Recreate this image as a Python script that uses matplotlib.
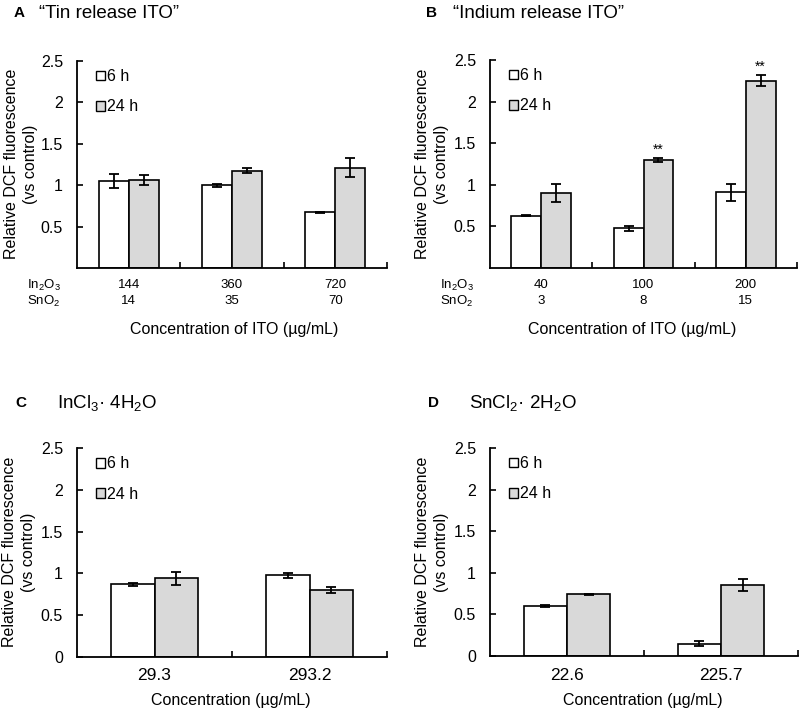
import matplotlib
matplotlib.use("Agg")
import matplotlib.pyplot as plt
import matplotlib.transforms as mtrans
import numpy as np

plt.rcParams['font.family'] = ['Liberation Sans', 'DejaVu Sans']
plt.rcParams['mathtext.default'] = 'regular'

# ---------------- data ----------------
series_labels = ['6 h', '24 h']

A_in2o3 = ['144', '360', '720']
A_sno2 = ['14', '35', '70']
A_6h = [1.05, 1.00, 0.675]
A_6h_err = [0.085, 0.02, 0.005]
A_24h = [1.06, 1.175, 1.21]
A_24h_err = [0.06, 0.03, 0.115]

B_in2o3 = ['40', '100', '200']
B_sno2 = ['3', '8', '15']
B_6h = [0.63, 0.48, 0.91]
B_6h_err = [0.008, 0.03, 0.10]
B_24h = [0.905, 1.30, 2.25]
B_24h_err = [0.11, 0.025, 0.065]
B_sig = ['', '**', '**']

C_conc = ['29.3', '293.2']
C_6h = [0.87, 0.98]
C_6h_err = [0.015, 0.03]
C_24h = [0.94, 0.80]
C_24h_err = [0.075, 0.04]

D_conc = ['22.6', '225.7']
D_6h = [0.595, 0.15]
D_6h_err = [0.012, 0.035]
D_24h = [0.74, 0.85]
D_24h_err = [0.01, 0.07]

# ---------------- figure ----------------
W, H = 800, 709
fig = plt.figure(figsize=(W / 100, H / 100), dpi=100)


def px_axes(x0, x1, ytop, ybot):
    return fig.add_axes([x0 / W, 1 - ybot / H, (x1 - x0) / W, (ybot - ytop) / H])


def fx(x):
    return x / W


def fy(y):
    return 1 - y / H


GRAY = '#d9d9d9'


def panel(ax, v6, e6, v24, e24, width, show_zero):
    n = len(v6)
    x = np.arange(n)
    ax.bar(x - width / 2, v6, width, color='white', edgecolor='black', linewidth=1.2,
           label=series_labels[0], zorder=2)
    ax.bar(x + width / 2, v24, width, color=GRAY, edgecolor='black', linewidth=1.2,
           label=series_labels[1], zorder=2)
    ax.errorbar(x - width / 2, v6, yerr=e6, fmt='none', ecolor='black', elinewidth=1.3,
                capsize=3.5, capthick=1.3, zorder=3)
    ax.errorbar(x + width / 2, v24, yerr=e24, fmt='none', ecolor='black', elinewidth=1.3,
                capsize=3.5, capthick=1.3, zorder=3)
    ax.set_xlim(-0.5, n - 0.5)
    ax.set_ylim(0, 2.5)
    yt = [0, 0.5, 1, 1.5, 2, 2.5] if show_zero else [0.5, 1, 1.5, 2, 2.5]
    ax.set_yticks(yt)
    ax.set_yticklabels([('%g' % v) for v in yt], fontsize=11.5)
    ax.tick_params(axis='y', direction='in', length=4, width=1.2, pad=10)
    ax.set_xticks(np.arange(n) + 0.5)
    ax.set_xticklabels([])
    ax.tick_params(axis='x', direction='in', length=4, width=1.2)
    for s in ['top', 'right']:
        ax.spines[s].set_visible(False)
    for s in ['left', 'bottom']:
        ax.spines[s].set_linewidth(1.3)
    leg = ax.legend(loc='upper left', bbox_to_anchor=(0.062, 0.96), frameon=False,
                    fontsize=11.5, handlelength=0.55, handleheight=0.55,
                    handletextpad=0.15, labelspacing=0.95, borderpad=0,
                    borderaxespad=0)
    for p in leg.get_patches():
        p.set_linewidth(1.0)
    return x


def ylabel(xc, yc):
    fig.text(fx(xc), fy(yc), 'Relative DCF fluorescence\n(vs control)', rotation=90,
             ha='center', va='center', fontsize=11.5, linespacing=1.35,
             multialignment='center')


# ---------- Panel A ----------
axA = px_axes(77, 387, 61, 268)
x = panel(axA, A_6h, A_6h_err, A_24h, A_24h_err, 0.29, False)
trA = mtrans.blended_transform_factory(axA.transData, fig.transFigure)
for i in range(len(x)):
    axA.text(x[i], fy(285), A_in2o3[i], transform=trA, ha='center', va='center', fontsize=9.5)
    axA.text(x[i], fy(301), A_sno2[i], transform=trA, ha='center', va='center', fontsize=9.5)
fig.text(fx(27), fy(285), 'In$_2$O$_3$', ha='left', va='center', fontsize=9.5)
fig.text(fx(27), fy(301), 'SnO$_2$', ha='left', va='center', fontsize=9.5)
fig.text(fx(234), fy(330), 'Concentration of ITO (µg/mL)', ha='center', va='center', fontsize=11.5)
ylabel(21, 164)
fig.text(fx(14), fy(13), 'A', ha='left', va='center', fontsize=11, fontweight='bold')
fig.text(fx(39), fy(13), '\u201cTin release ITO\u201d', ha='left', va='center', fontsize=13.5)

# ---------- Panel B ----------
axB = px_axes(490, 797, 60, 268)
x = panel(axB, B_6h, B_6h_err, B_24h, B_24h_err, 0.29, False)
trB = mtrans.blended_transform_factory(axB.transData, fig.transFigure)
for i in range(len(x)):
    axB.text(x[i], fy(285), B_in2o3[i], transform=trB, ha='center', va='center', fontsize=9.5)
    axB.text(x[i], fy(301), B_sno2[i], transform=trB, ha='center', va='center', fontsize=9.5)
    if B_sig[i]:
        axB.annotate(B_sig[i], (x[i] + 0.29 / 2, B_24h[i] + B_24h_err[i]),
                     xytext=(0, 1), textcoords='offset points', ha='center', va='bottom',
                     fontsize=10)
fig.text(fx(440), fy(285), 'In$_2$O$_3$', ha='left', va='center', fontsize=9.5)
fig.text(fx(440), fy(301), 'SnO$_2$', ha='left', va='center', fontsize=9.5)
fig.text(fx(632), fy(330), 'Concentration of ITO (µg/mL)', ha='center', va='center', fontsize=11.5)
ylabel(432, 164)
fig.text(fx(426), fy(13), 'B', ha='left', va='center', fontsize=11, fontweight='bold')
fig.text(fx(453), fy(13), '\u201cIndium release ITO\u201d', ha='left', va='center', fontsize=13.5)

# ---------- Panel C ----------
axC = px_axes(77, 387, 448, 657)
x = panel(axC, C_6h, C_6h_err, C_24h, C_24h_err, 0.28, True)
trC = mtrans.blended_transform_factory(axC.transData, fig.transFigure)
for i in range(len(x)):
    axC.text(x[i], fy(676), C_conc[i], transform=trC, ha='center', va='center', fontsize=12.5)
fig.text(fx(231), fy(700), 'Concentration (µg/mL)', ha='center', va='center', fontsize=11.5)
ylabel(19, 552)
fig.text(fx(15), fy(403), 'C', ha='left', va='center', fontsize=11, fontweight='bold')
fig.text(fx(57), fy(403), 'InCl$_3$· 4H$_2$O', ha='left', va='center', fontsize=13.5)

# ---------- Panel D ----------
axD = px_axes(490, 798, 448, 656)
x = panel(axD, D_6h, D_6h_err, D_24h, D_24h_err, 0.28, True)
trD = mtrans.blended_transform_factory(axD.transData, fig.transFigure)
for i in range(len(x)):
    axD.text(x[i], fy(676), D_conc[i], transform=trD, ha='center', va='center', fontsize=12.5)
fig.text(fx(643), fy(700), 'Concentration (µg/mL)', ha='center', va='center', fontsize=11.5)
ylabel(432, 552)
fig.text(fx(428), fy(403), 'D', ha='left', va='center', fontsize=11, fontweight='bold')
fig.text(fx(469), fy(403), 'SnCl$_2$· 2H$_2$O', ha='left', va='center', fontsize=13.5)

fig.savefig('out.png', dpi=100)
